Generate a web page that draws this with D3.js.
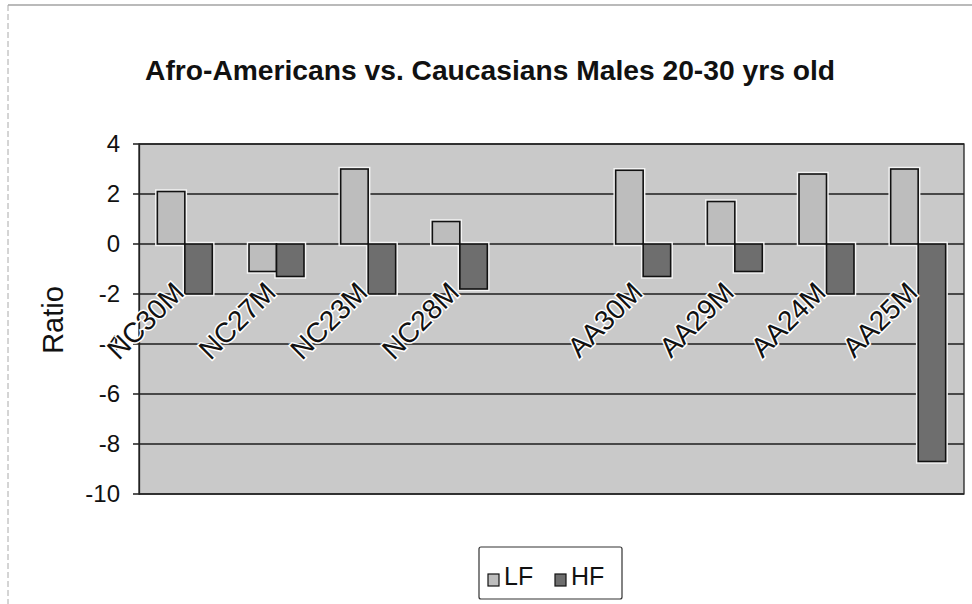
<!DOCTYPE html>
<html>
<head>
<meta charset="utf-8">
<script src="https://cdn.jsdelivr.net/npm/d3@7"></script>
<style>
  html, body { margin: 0; padding: 0; background: #fff; }
  svg { display: block; }
  text { font-family: Arial, "Liberation Sans", sans-serif; fill: #111; }
</style>
</head>
<body>
<svg id="chart" width="972" height="604"></svg>
<script>
// ---- data ----
const categories = ["NC30M", "NC27M", "NC23M", "NC28M", "", "AA30M", "AA29M", "AA24M", "AA25M"];
const seriesNames = ["LF", "HF"];
const lfValues = [2.1, -1.1, 3.0, 0.9, null, 2.95, 1.7, 2.8, 3.0];
const hfValues = [-2.0, -1.3, -2.0, -1.8, null, -1.3, -1.1, -2.0, -8.7];
const yTicks = [4, 2, 0, -2, -4, -6, -8, -10];
const titleText = "Afro-Americans vs. Caucasians Males 20-30 yrs old";
const yLabel = "Ratio";

// ---- layout ----
const W = 972, H = 604;
const plot = { left: 139, right: 964, top: 144, bottom: 494 };
const colors = { LF: "#bdbdbd", HF: "#6e6e6e" };

const svg = d3.select("#chart");

// chart border (scan style)
svg.append("line").attr("x1", 8).attr("x2", W).attr("y1", 5).attr("y2", 5)
  .attr("stroke", "#777").attr("stroke-width", 1.2);
svg.append("line").attr("x1", 8).attr("x2", 8).attr("y1", 5).attr("y2", H)
  .attr("stroke", "#aaa").attr("stroke-width", 1).attr("stroke-dasharray", "6,3");

const y = d3.scaleLinear().domain([-10, 4]).range([plot.bottom, plot.top]);
const x0 = d3.scaleBand().domain(categories).range([plot.left, plot.right])
  .paddingInner(0.4).paddingOuter(0.2);
const x1 = d3.scaleBand().domain(seriesNames).range([0, x0.bandwidth()]);

// plot area background
svg.append("rect")
  .attr("x", plot.left).attr("y", plot.top)
  .attr("width", plot.right - plot.left).attr("height", plot.bottom - plot.top)
  .attr("fill", "#c9c9c9");

// gridlines
svg.append("g").selectAll("line").data(yTicks).join("line")
  .attr("x1", plot.left - 6).attr("x2", plot.right)
  .attr("y1", d => y(d)).attr("y2", d => y(d))
  .attr("stroke", "#1c1c1c").attr("stroke-width", 1.3);

// plot border
svg.append("rect")
  .attr("x", plot.left).attr("y", plot.top)
  .attr("width", plot.right - plot.left).attr("height", plot.bottom - plot.top)
  .attr("fill", "none").attr("stroke", "#222").attr("stroke-width", 1.3);

// y axis via d3 axis
const yAxis = d3.axisLeft(y).tickValues(yTicks).tickFormat(d => String(d)).tickSize(0).tickPadding(19);
const ya = svg.append("g").attr("transform", `translate(${plot.left},0)`).call(yAxis);
ya.select(".domain").attr("stroke", "#222").attr("stroke-width", 1.3);
ya.selectAll("text").style("font-size", "24px").attr("fill", "#111")
  .style("font-family", "Arial, 'Liberation Sans', sans-serif");

// bars
const rows = categories.map((c, i) => ({ cat: c, LF: lfValues[i], HF: hfValues[i] }));
const groups = svg.append("g").selectAll("g").data(rows).join("g")
  .attr("transform", d => `translate(${x0(d.cat)},0)`);
const barData = d => seriesNames.filter(k => d[k] !== null).map(k => ({ key: k, value: d[k] }));

groups.selectAll("rect.halo").data(barData).join("rect").attr("class", "halo")
  .attr("x", d => x1(d.key)).attr("width", x1.bandwidth())
  .attr("y", d => y(Math.max(0, d.value))).attr("height", d => Math.abs(y(d.value) - y(0)))
  .attr("fill", "none").attr("stroke", "#f4f4f4").attr("stroke-width", 4.5);
groups.selectAll("rect.bar").data(barData).join("rect").attr("class", "bar")
  .attr("x", d => x1(d.key)).attr("width", x1.bandwidth())
  .attr("y", d => y(Math.max(0, d.value))).attr("height", d => Math.abs(y(d.value) - y(0)))
  .attr("fill", d => colors[d.key]).attr("stroke", "#111").attr("stroke-width", 1.6);

// category labels (rotated)
svg.append("g").selectAll("text").data(categories.filter(c => c !== "")).join("text")
  .attr("transform", c => `translate(${x0(c) + x0.bandwidth() / 2 + 1},${y(0) + 50}) rotate(-45)`)
  .attr("text-anchor", "end")
  .style("font-size", "28px")
  .attr("stroke", "#fff").attr("stroke-width", 3).attr("paint-order", "stroke")
  .text(c => c);

// title
svg.append("text")
  .attr("x", 490).attr("y", 80)
  .attr("text-anchor", "middle")
  .style("font-size", "27px").style("font-weight", "bold")
  .attr("textLength", 690).attr("lengthAdjust", "spacingAndGlyphs")
  .text(titleText);

// y axis label
svg.append("text")
  .attr("transform", "translate(63,320) rotate(-90)")
  .attr("text-anchor", "middle")
  .style("font-size", "29px")
  .text(yLabel);

// legend
const lg = svg.append("g");
lg.append("rect").attr("x", 479).attr("y", 547).attr("width", 143).attr("height", 52)
  .attr("fill", "#fff").attr("stroke", "#333").attr("stroke-width", 1.2).attr("rx", 2);
const legendItems = lg.selectAll("g").data(seriesNames).join("g")
  .attr("transform", (d, i) => `translate(${488 + i * 67},0)`);
legendItems.append("rect").attr("x", 0).attr("y", 574).attr("width", 11).attr("height", 12)
  .attr("fill", d => colors[d]).attr("stroke", "#111").attr("stroke-width", 1.2);
legendItems.append("text").attr("x", 16).attr("y", 585)
  .style("font-size", "25px").text(d => d);
</script>
</body>
</html>
